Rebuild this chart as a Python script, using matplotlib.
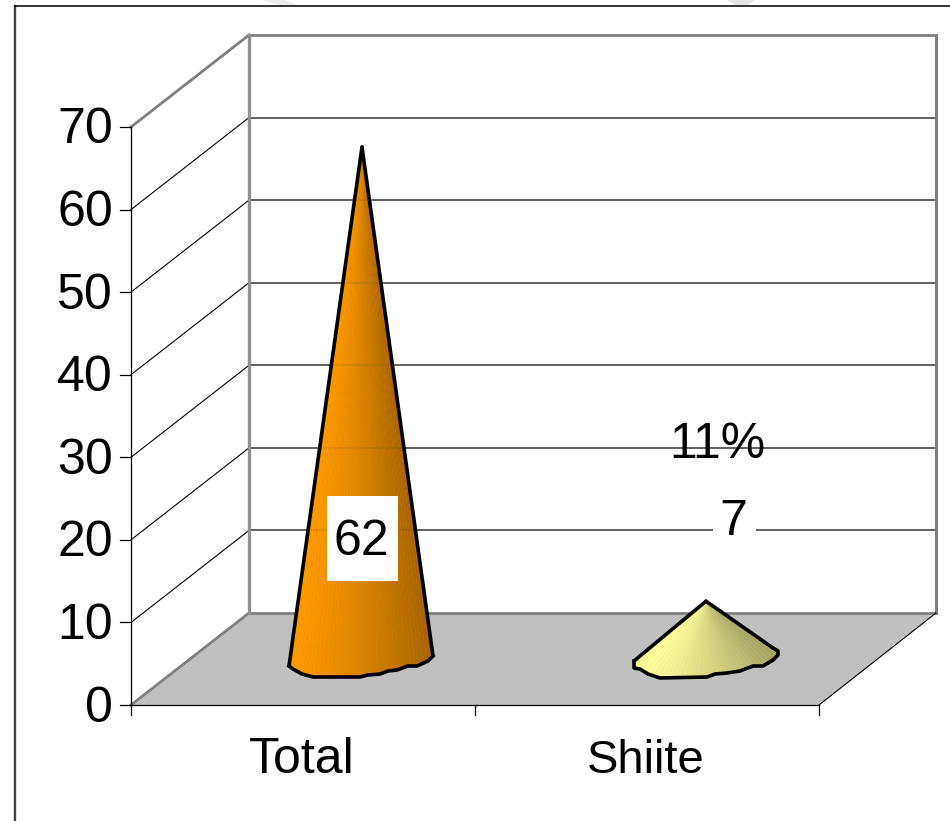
import numpy as np
import matplotlib
matplotlib.use('Agg')
import matplotlib.pyplot as plt
from matplotlib.colors import to_rgb
from matplotlib.patches import Rectangle

plt.rcParams['font.family'] = ['Liberation Sans', 'DejaVu Sans']

# chart values
categories = ['Total', 'Shiite']
values = [62, 7]
value_labels = ['62', '7']
y_ticks = [0, 10, 20, 30, 40, 50, 60, 70]
percent_label = '11%'

# chart geometry in image pixels
FRONT_X, BACK_X = 131, 249
RIGHT_FRONT_X, RIGHT_BACK_X = 819, 936
FRONT_Y0, BACK_Y0 = 705, 613
PX_PER_UNIT = 578 / 70
CONE_BASE_Y = 659
CONE_X = [362, 706]
FONT = 36

# wobbly base outlines, offsets from the cone centre (left corner to right corner)
base_total = [(-73, 7), (-69, 10), (-60, 15), (-49, 18), (-2, 18), (6, 16), (18, 15),
              (26, 12), (35, 11), (46, 7), (55, 7), (66, 2), (71, -3)]
base_shiite = [(-72, 2), (-72, 9), (-66, 10), (-58, 15), (-46, 19), (1, 18), (9, 15),
               (21, 14), (34, 12), (47, 7), (57, 7), (67, 1), (72, -4), (72, -8), (67, -11)]
orange = ('#FF9A00', '#A56300')
yellow = ('#FFFF9C', '#A3A366')


def wall_y(v):
    return BACK_Y0 - v * PX_PER_UNIT


def front_y(v):
    return FRONT_Y0 - v * PX_PER_UNIT


def draw_cone(ax, cx, value, outline, colors):
    apex = (cx, CONE_BASE_Y - value * PX_PER_UNIT)
    pts = np.array(outline, dtype=float) + [cx, CONE_BASE_Y]
    # split the outline into narrow facets for the shading
    seg = np.r_[0, np.cumsum(np.hypot(*np.diff(pts, axis=0).T))]
    t = np.linspace(0, seg[-1], 37)
    px = np.interp(t, seg, pts[:, 0])
    py = np.interp(t, seg, pts[:, 1])
    c0, c1 = np.array(to_rgb(colors[0])), np.array(to_rgb(colors[1]))
    # solid layer underneath so the facet seams stay faint near the tip
    ax.fill(np.r_[apex[0], pts[:, 0]], np.r_[apex[1], pts[:, 1]],
            color=c0 + (c1 - c0) * 0.4, lw=0, zorder=3.9)
    for i in range(len(t) - 1):
        f = (0.5 * (px[i] + px[i + 1]) - pts[0, 0]) / (pts[:, 0].max() - pts[0, 0])
        ax.fill([apex[0], px[i], px[i + 1]], [apex[1], py[i], py[i + 1]],
                color=c0 + (c1 - c0) * f ** 1.3, lw=0, zorder=4)
    ax.plot([pts[0, 0], apex[0]], [pts[0, 1], apex[1]], color='black', lw=2.6, zorder=5,
            solid_capstyle='round')
    ax.plot([pts[-1, 0], apex[0]], [pts[-1, 1], apex[1]], color='black', lw=2.6, zorder=5,
            solid_capstyle='round')
    ax.plot(pts[:, 0], pts[:, 1], color='black', lw=2.6, zorder=5, solid_joinstyle='round')


fig = plt.figure(figsize=(9.5, 8.21), dpi=100)
ax = fig.add_axes([0, 0, 1, 1])
ax.set_xlim(0, 950)
ax.set_ylim(821, 0)
ax.axis('off')

# smudges of the page behind the chart, along the top edge
ax.fill([262, 285, 298, 280], [0, 0, 5, 5], color='#EDEDED', lw=0, zorder=0)
ax.fill([727, 755, 748, 735], [0, 0, 5, 5], color='#E4E4E4', lw=0, zorder=0)

# outer frame
ax.plot([15, 15], [821, 6], color='#444444', lw=1.7, zorder=1)
ax.plot([15, 950], [6, 6], color='#111111', lw=1.2, zorder=1)

# floor
ax.fill([FRONT_X, BACK_X, RIGHT_BACK_X, RIGHT_FRONT_X],
        [FRONT_Y0, BACK_Y0, BACK_Y0, FRONT_Y0], color='#C0C0C0', lw=0, zorder=1)

# gridlines on the back and side walls
for v in y_ticks[1:-1]:
    ax.plot([BACK_X, RIGHT_BACK_X], [wall_y(v), wall_y(v)], color='#4A4A4A', lw=1.2, zorder=2)
    ax.plot([FRONT_X, BACK_X], [front_y(v), wall_y(v)], color='black', lw=0.8, zorder=2)
    # the cones are slightly see-through
    ax.plot([BACK_X, RIGHT_BACK_X], [wall_y(v), wall_y(v)], color='#4A4A4A', lw=1.2,
            alpha=0.15, zorder=4.5)
top = y_ticks[-1]
ax.plot([BACK_X, RIGHT_BACK_X], [wall_y(0), wall_y(0)], color='#808080', lw=2, zorder=2)
ax.plot([BACK_X, RIGHT_BACK_X], [wall_y(top), wall_y(top)], color='#808080', lw=2, zorder=2)
ax.plot([FRONT_X, BACK_X], [front_y(top), wall_y(top)], color='#808080', lw=2, zorder=2)
ax.plot([FRONT_X, BACK_X], [FRONT_Y0, BACK_Y0], color='#808080', lw=2, zorder=2)
ax.plot([BACK_X, BACK_X], [wall_y(0), wall_y(top)], color='#909090', lw=2.4, zorder=2)
ax.plot([RIGHT_BACK_X, RIGHT_BACK_X], [wall_y(0), wall_y(top)], color='#808080', lw=2.2, zorder=2)

# axis lines and ticks
ax.plot([FRONT_X, FRONT_X], [front_y(0), front_y(top)], color='black', lw=0.9, zorder=3)
ax.plot([FRONT_X, RIGHT_FRONT_X], [FRONT_Y0, FRONT_Y0], color='black', lw=0.9, zorder=3)
ax.plot([RIGHT_FRONT_X, RIGHT_BACK_X], [FRONT_Y0, BACK_Y0], color='black', lw=0.8, zorder=3)
for v in y_ticks:
    ax.plot([FRONT_X - 11, FRONT_X], [front_y(v), front_y(v)], color='black', lw=0.9, zorder=3)
    ax.text(FRONT_X - 18, front_y(v) + 16.5, str(v), ha='right', va='baseline', fontsize=FONT)
slot = (RIGHT_FRONT_X - FRONT_X) / len(categories)
for i in range(len(categories) + 1):
    x = FRONT_X + i * slot
    ax.plot([x, x], [FRONT_Y0, FRONT_Y0 + 10], color='black', lw=0.9, zorder=3)
# the reference sets Shiite a little tighter than Liberation Sans does
label_sizes = [FONT, 34]
for i, name in enumerate(categories):
    ax.text(FRONT_X + (i + 0.5) * slot - 1, 773, name, ha='center', va='baseline',
            fontsize=label_sizes[i])

# cones
draw_cone(ax, CONE_X[0], values[0], base_total, orange)
draw_cone(ax, CONE_X[1], values[1], base_shiite, yellow)

# labels, the two values sit on white boxes
ax.add_patch(Rectangle((327, 496), 71, 85, facecolor='white', edgecolor='none', zorder=6))
ax.add_patch(Rectangle((713, 495), 43, 50, facecolor='white', edgecolor='none', zorder=6))
ax.text(CONE_X[0] - 1, 555, value_labels[0], ha='center', va='baseline', fontsize=FONT, zorder=7)
ax.text(733, 535, value_labels[1], ha='center', va='baseline', fontsize=FONT, zorder=7)
ax.text(717, 458, percent_label, ha='center', va='baseline', fontsize=FONT, zorder=7)

fig.savefig('out.png', dpi=100)
